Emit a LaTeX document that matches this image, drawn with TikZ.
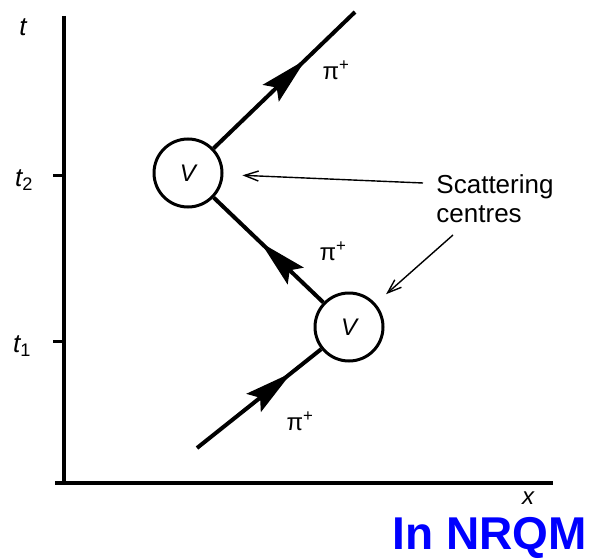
\documentclass[tikz,border=0pt]{standalone}
\usepackage{fontspec}
\setmainfont{Liberation Sans}
\usetikzlibrary{arrows.meta,decorations.markings}

\tikzset{
  vertex/.style={draw,circle,line width=3pt,minimum size=68pt,inner sep=0pt,
    font=\fontsize{24}{24}\selectfont\itshape},
  pion/.style={line width=4pt,postaction={decorate},
    decoration={markings,mark=at position #1 with {\arrow{Stealth[length=48pt,width=23pt,inset=8pt]}}}},
  pointer/.style={line width=1.4pt,-{Straight Barb[length=14pt,width=10pt]}},
  lbl/.style={inner sep=0pt,font=\fontsize{24}{26}\selectfont},
}

\begin{document}
\begin{tikzpicture}[x=1pt,y=-1pt]
        \useasboundingbox (0,0) rectangle (591,559);
        \draw[line width=3.5pt] (64,16) -- (64,483);
        \draw[line width=3.5pt] (55,483) -- (553,483);
        \draw[line width=3pt] (53,175) -- (64,175);
        \draw[line width=3pt] (53,341) -- (64,341);
        \node[lbl,font=\fontsize{26}{26}\selectfont\itshape] (t) at (23,27) {t};
        \node[lbl,font=\fontsize{26}{28}\selectfont] (t2) at (24,180) {\itshape t\upshape\textsubscript{2}};
        \node[lbl,font=\fontsize{26}{28}\selectfont] (t1) at (22,346) {\itshape t\upshape\textsubscript{1}};
        \node[lbl,font=\fontsize{24}{24}\selectfont\itshape] (x) at (528,498) {x};
        \node[vertex] (upV) at (188,173) {V};
        \node[vertex] (lowV) at (349,327) {V};
        \coordinate (in) at (197,448);
        \coordinate (out) at (355,12);
        \draw[pion=0.76] (in) -- (lowV);
        \draw[pion=0.57] (lowV) -- (upV);
        \draw[pion=0.65] (upV) -- (out);
        \node[lbl] (pi1) at (300,421) {π\textsuperscript{+}};
        \node[lbl] (pi2) at (333,251) {π\textsuperscript{+}};
        \node[lbl] (pi3) at (336,70) {π\textsuperscript{+}};
        \node[lbl,align=left,font=\fontsize{26}{29}\selectfont] (scat) at (495,199) {Scattering\\centres};
        \coordinate (p1) at (423,183);
        \coordinate (p2) at (453,235);
        \draw[pointer,shorten >=19pt] (p1) -- (upV);
        \draw[pointer,shorten >=14pt] (p2) -- (lowV);
        \node[anchor=south east,inner sep=0pt,text=blue,font=\fontsize{46}{46}\selectfont\bfseries] (nrqm) at (587,559) {In NRQM};
\end{tikzpicture}
\end{document}
